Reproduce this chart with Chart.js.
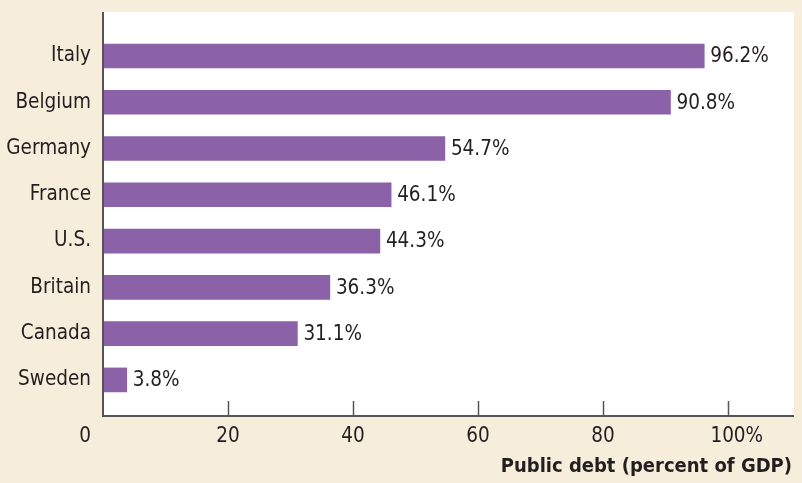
<!DOCTYPE html>
<html><head><meta charset="utf-8">
<script src="https://cdn.jsdelivr.net/npm/chart.js@4/dist/chart.umd.min.js"></script>
<style>html,body{margin:0;padding:0;background:#f6eddb;}#w{width:802px;height:483px;}</style>
</head><body><div id="w"><canvas id="c" width="802" height="483"></canvas></div>
<script>
const categories = ["Italy","Belgium","Germany","France","U.S.","Britain","Canada","Sweden"];
const debtValues = [96.2, 90.8, 54.7, 46.1, 44.3, 36.3, 31.1, 3.8];
const valueLabels = ["96.2%","90.8%","54.7%","46.1%","44.3%","36.3%","31.1%","3.8%"];
const xTicks = [0, 20, 40, 60, 80, 100];
const xTickLabels = ["0","20","40","60","80","100"];
const axisTitle = "Public debt (percent of GDP)";

const FONT = '"DejaVu Sans Condensed", "DejaVu Sans", sans-serif';
const TXT = '#231f20';
const AX = '#555555';

const drawPlugin = {
  id: 'draw',
  beforeDraw(chart) {
    const ctx = chart.ctx, a = chart.chartArea;
    ctx.save();
    ctx.fillStyle = '#f6eddb';
    ctx.fillRect(0, 0, chart.width, chart.height);
    ctx.fillStyle = '#ffffff';
    ctx.fillRect(a.left, a.top, a.right - a.left, a.bottom - a.top);
    ctx.restore();
  },
  afterDatasetsDraw(chart) {
    const ctx = chart.ctx, a = chart.chartArea;
    const xs = chart.scales.x, ys = chart.scales.y;
    ctx.save();
    ctx.strokeStyle = AX;
    ctx.lineWidth = 2;
    ctx.beginPath();
    ctx.moveTo(a.left, a.top);
    ctx.lineTo(a.left, a.bottom);
    ctx.lineTo(a.right, a.bottom);
    ctx.stroke();
    ctx.lineWidth = 1.5;
    xTicks.forEach(t => {
      if (t === 0) return;
      const px = Math.round(xs.getPixelForValue(t)) + 0.5;
      ctx.beginPath();
      ctx.moveTo(px, a.bottom);
      ctx.lineTo(px, a.bottom - 15);
      ctx.stroke();
    });
    ctx.fillStyle = TXT;
    ctx.font = '20.5px ' + FONT;
    ctx.textBaseline = 'middle';
    xTicks.forEach((t, i) => {
      const px = xs.getPixelForValue(t);
      let lab = xTickLabels[i];
      if (t === 0) {
        ctx.textAlign = 'center';
        ctx.fillText(lab, px - 18, a.bottom + 21);
      } else if (t === 100) {
        const w = ctx.measureText(lab).width;
        ctx.textAlign = 'left';
        ctx.fillText(lab + '%', px - w / 2, a.bottom + 21);
      } else {
        ctx.textAlign = 'center';
        ctx.fillText(lab, px, a.bottom + 21);
      }
    });
    ctx.textAlign = 'right';
    categories.forEach((c, i) => {
      ctx.fillText(c, a.left - 12, ys.getPixelForValue(i));
    });
    ctx.textAlign = 'left';
    debtValues.forEach((v, i) => {
      ctx.fillText(valueLabels[i], xs.getPixelForValue(v) + 6, ys.getPixelForValue(i) + 1);
    });
    ctx.font = 'bold 20px ' + FONT;
    ctx.textAlign = 'right';
    ctx.fillText(axisTitle, 792, 467);
    ctx.restore();
  }
};

new Chart(document.getElementById('c'), {
  type: 'bar',
  data: {
    datasets: [{
      data: debtValues.map((v, i) => ({ x: v, y: i })),
      backgroundColor: '#8b62a8',
      borderWidth: 0,
      barThickness: 24
    }]
  },
  options: {
    indexAxis: 'y',
    responsive: false,
    animation: false,
    layout: { padding: { left: 103, right: 8, top: 12, bottom: 67 } },
    plugins: { legend: { display: false }, tooltip: { enabled: false } },
    scales: {
      x: { type: 'linear', display: false, min: 0, max: 110.56 },
      y: { type: 'linear', display: false, offset: false, reverse: true, min: -0.95, max: 7.78 }
    }
  },
  plugins: [drawPlugin]
});
</script>
</body></html>
